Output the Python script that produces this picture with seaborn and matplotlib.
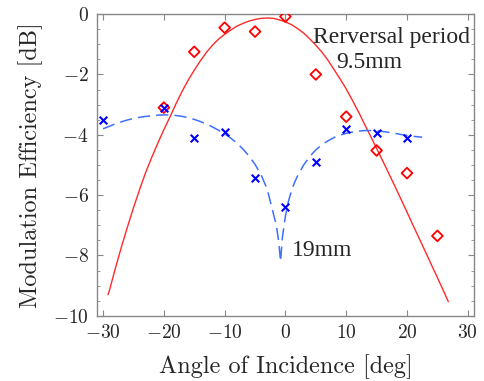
import numpy as np
import pandas as pd
import seaborn as sns
import matplotlib.pyplot as plt
from matplotlib.ticker import MultipleLocator

# measured points
angle_pts = [-20, -15, -10, -5, 0, 5, 10, 15, 20, 25]
eff_95mm = [-3.1, -1.25, -0.45, -0.58, -0.08, -2.0, -3.4, -4.52, -5.27, -7.35]

angle_pts_19 = [-30, -20, -15, -10, -5, 0, 5, 10, 15, 20]
eff_19mm = [-3.52, -3.1, -4.12, -3.92, -5.42, -6.38, -4.9, -3.82, -3.93, -4.1]

# theory curves
fit_x_95 = [-29.2, -29, -28, -27, -26, -25, -24, -23, -22, -21, -20, -19, -18, -17, -16,
            -15, -14, -13, -12, -11, -10, -9, -8, -7, -6, -5, -4, -3, -2, -1,
            0, 1, 2, 3, 4, 5, 6, 7, 8, 9, 10, 11, 12, 13, 14,
            15, 16, 17, 18, 19, 20, 21, 22, 23, 24, 25, 26, 26.8]
fit_y_95 = [-9.3, -9.19, -8.44, -7.73, -7.06, -6.42, -5.82, -5.25, -4.75, -4.28, -3.83, -3.41, -2.97, -2.56, -2.19,
            -1.86, -1.55, -1.27, -1.03, -0.83, -0.67, -0.53, -0.4, -0.31, -0.23, -0.18, -0.14, -0.13, -0.14, -0.19,
            -0.26, -0.35, -0.48, -0.63, -0.82, -1.03, -1.26, -1.53, -1.84, -2.15, -2.48, -2.85, -3.23, -3.64, -4.04,
            -4.45, -4.86, -5.28, -5.7, -6.13, -6.56, -7.0, -7.43, -7.86, -8.3, -8.73, -9.17, -9.53]

fit_x_19 = [-30, -29, -28, -27, -26, -25, -24, -23, -22, -21, -20, -19, -18, -17, -16,
            -15, -14, -13, -12, -11, -10, -9, -8, -7, -6, -5, -4, -3, -2.5, -2,
            -1.5, -1.1, -0.8, -0.5, 0, 0.5, 1, 1.5, 2, 3, 4, 5, 6, 7, 8,
            9, 10, 11, 12, 13, 14, 15, 16, 17, 18, 19, 20, 21, 22.5]
fit_y_19 = [-3.8, -3.72, -3.64, -3.57, -3.51, -3.46, -3.42, -3.39, -3.37, -3.35, -3.34, -3.34, -3.36, -3.39, -3.43,
            -3.49, -3.56, -3.64, -3.74, -3.85, -3.97, -4.11, -4.27, -4.47, -4.7, -4.98, -5.33, -5.8, -6.2, -6.6,
            -7.0, -7.55, -8.2, -7.4, -6.7, -6.2, -5.85, -5.58, -5.36, -5.0, -4.72, -4.5, -4.33, -4.2, -4.09,
            -4.01, -3.95, -3.91, -3.88, -3.86, -3.86, -3.87, -3.89, -3.92, -3.95, -3.99, -4.02, -4.05, -4.08]

sns.set_style("ticks")
plt.rcParams['font.family'] = ['cmr10']
plt.rcParams['axes.formatter.use_mathtext'] = True
plt.rcParams['mathtext.fontset'] = 'cm'

fig, ax = plt.subplots(figsize=(4.85, 3.81), dpi=100)
fig.subplots_adjust(left=0.2, right=0.977, top=0.963, bottom=0.171)

sns.lineplot(x=fit_x_95, y=fit_y_95, ax=ax, color='#ff2a2a', linewidth=1.0, sort=False)
sns.lineplot(x=fit_x_19, y=fit_y_19, ax=ax, color='#3f6fff', linewidth=1.1, sort=False)
ax.lines[-1].set_dashes([8, 4])

sns.scatterplot(x=angle_pts, y=eff_95mm, ax=ax, marker='D', s=30, facecolor='none',
                edgecolor='#ff0000', linewidth=1.3, zorder=3)
sns.scatterplot(x=angle_pts_19, y=eff_19mm, ax=ax, marker='x', s=30, color='#0000ff',
                linewidth=1.5, zorder=4)

ax.set_xlim(-31, 31)
ax.set_ylim(-10, 0)
ax.xaxis.set_major_locator(MultipleLocator(10))
ax.yaxis.set_major_locator(MultipleLocator(2))
ax.yaxis.set_minor_locator(MultipleLocator(0.5))
ax.tick_params(which='both', direction='in', top=True, right=True, color='#888888',
               labelsize=14, pad=6)
ax.tick_params(which='major', length=4)
ax.tick_params(which='minor', length=2.5)
for sp in ax.spines.values():
    sp.set_color('#888888')
    sp.set_linewidth(1.0)

ax.set_xlabel('Angle of Incidence [deg]', fontsize=17.5, labelpad=9)
ax.set_ylabel('Modulation Efficiency [dB]', fontsize=17.5, labelpad=7)

ax.text(4.6, -0.96, 'Rerversal period', family='Liberation Serif', fontsize=17, va='baseline')
ax.text(8.4, -1.79, '9.5mm', family='Liberation Serif', fontsize=17, va='baseline')
ax.text(1.15, -8.01, '19mm', family='Liberation Serif', fontsize=17, va='baseline')

fig.savefig('out.png', dpi=100)
